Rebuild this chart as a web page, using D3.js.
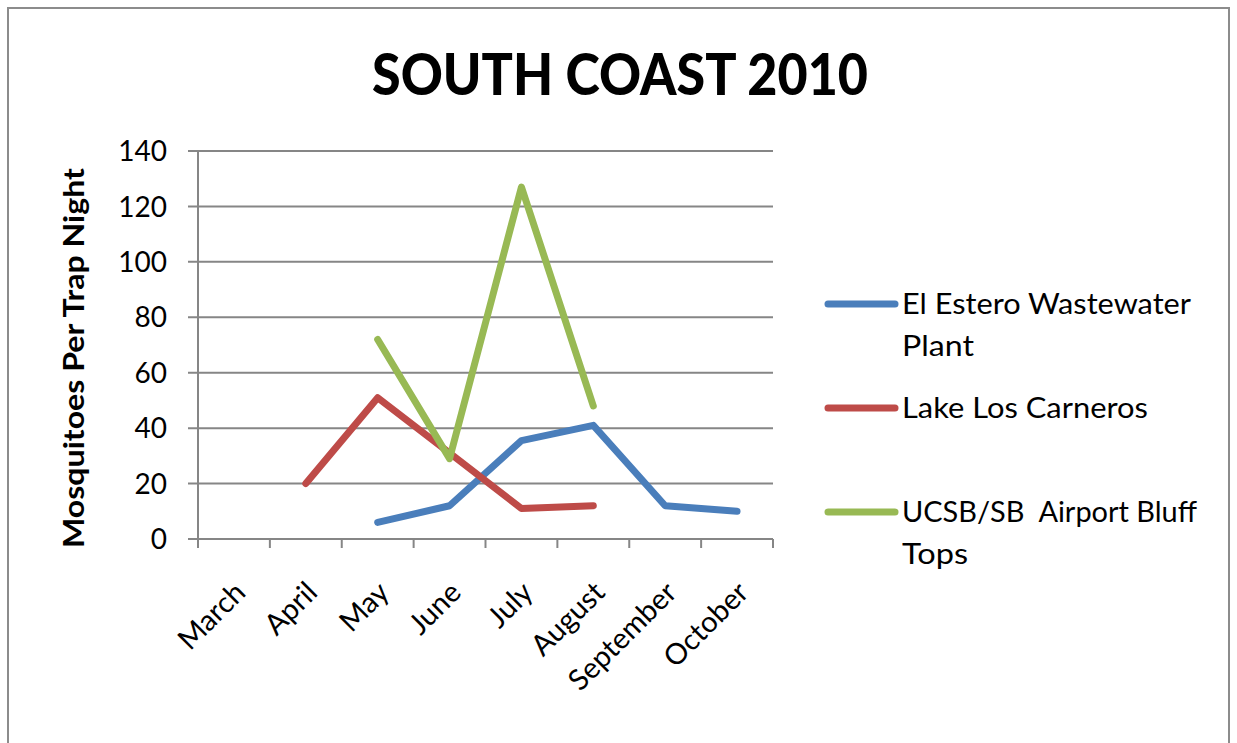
<!DOCTYPE html>
<html><head><meta charset="utf-8">
<script src="https://cdn.jsdelivr.net/npm/d3@7"></script>
<style>body{margin:0;background:#fff}svg{display:block}</style>
</head><body>
<svg id="c" width="1237" height="743"></svg>
<script>
const months = ["March","April","May","June","July","August","September","October"];
const elEstero = [null,null,6,12,35.5,41,12,10];
const lakeLosCarneros = [null,20,51,31,11,12,null,null];
const ucsbBluff = [null,null,72,29,127,48,null,null];
const seriesNames = ["El Estero Wastewater|Plant","Lake Los Carneros","UCSB/SB  Airport Bluff|Tops"];
const seriesColors = ["#4a7ebb","#be4b48","#98b954"];
const yTicks = [0,20,40,60,80,100,120,140];

const svg = d3.select("#c");
const font = "Lato, 'Open Sans', sans-serif";
svg.append("rect").attr("x",8).attr("y",8).attr("width",1221).attr("height",760)
  .attr("fill","#fff").attr("stroke","#8c8c8c").attr("stroke-width",2);

const L=198,R=773,T=151,B=539;
const x = d3.scaleBand().domain(months).range([L,R]);
const y = d3.scaleLinear().domain([0,140]).range([B,T]);

// gridlines
svg.append("g").selectAll("line").data(yTicks).join("line")
  .attr("x1",L-10).attr("x2",R).attr("y1",d=>y(d)).attr("y2",d=>y(d))
  .attr("stroke","#868686").attr("stroke-width",2);
// y axis line
svg.append("line").attr("x1",L).attr("x2",L).attr("y1",T).attr("y2",B+8)
  .attr("stroke","#868686").attr("stroke-width",2);
// x ticks
const xt = months.map(m=>x(m)).concat([R]);
svg.append("g").selectAll("line").data(xt).join("line")
  .attr("x1",d=>d).attr("x2",d=>d).attr("y1",B).attr("y2",B+9)
  .attr("stroke","#868686").attr("stroke-width",2);

// y tick labels
svg.append("g").selectAll("text").data(yTicks).join("text")
  .attr("x",167).attr("y",d=>y(d)).attr("dy","0.36em").attr("text-anchor","end")
  .attr("font-family",font).attr("font-size",28).attr("fill","#000").text(d=>d);

// x labels
svg.append("g").selectAll("text").data(months).join("text")
  .attr("transform",d=>`translate(${x(d)+x.bandwidth()/2+6},${B+48}) rotate(-45)`)
  .attr("text-anchor","end").attr("dy","0.35em")
  .attr("font-family",font).attr("font-size",29).attr("fill","#000").text(d=>d);

// y title
svg.append("text").attr("transform",`translate(84,358) rotate(-90)`)
  .attr("text-anchor","middle").attr("font-family",font).attr("font-weight","bold")
  .attr("font-size",29).attr("textLength",380).attr("lengthAdjust","spacingAndGlyphs")
  .text("Mosquitoes Per Trap Night");

// title
svg.append("text").attr("x",620).attr("y",95).attr("text-anchor","middle")
  .attr("font-family",font).attr("font-weight","900").attr("font-size",58)
  .attr("textLength",496).attr("lengthAdjust","spacingAndGlyphs")
  .text("SOUTH COAST 2010");

// lines
const line = d3.line().defined(d=>d.v!=null).x(d=>x(d.m)+x.bandwidth()/2).y(d=>y(d.v));
[elEstero,lakeLosCarneros,ucsbBluff].forEach((s,i)=>{
  svg.append("path").datum(months.map((m,j)=>({m,v:s[j]})))
    .attr("d",line).attr("fill","none").attr("stroke",seriesColors[i])
    .attr("stroke-width",7).attr("stroke-linejoin","round").attr("stroke-linecap","round");
});

// legend
const legY=[304,408,512];
const legW=[[289,72],[246],[295,66]];
seriesNames.forEach((n,i)=>{
  svg.append("line").attr("x1",828).attr("x2",895).attr("y1",legY[i]).attr("y2",legY[i])
    .attr("stroke",seriesColors[i]).attr("stroke-width",7).attr("stroke-linecap","round");
  n.split("|").forEach((t,k)=>{
    svg.append("text").attr("x",902).attr("y",legY[i]+k*42).attr("dy","0.36em")
      .attr("font-family",font).attr("font-size",28).attr("xml:space","preserve")
      .attr("textLength",legW[i][k]).attr("lengthAdjust","spacingAndGlyphs").text(t);
  });
});
</script>
</body></html>
